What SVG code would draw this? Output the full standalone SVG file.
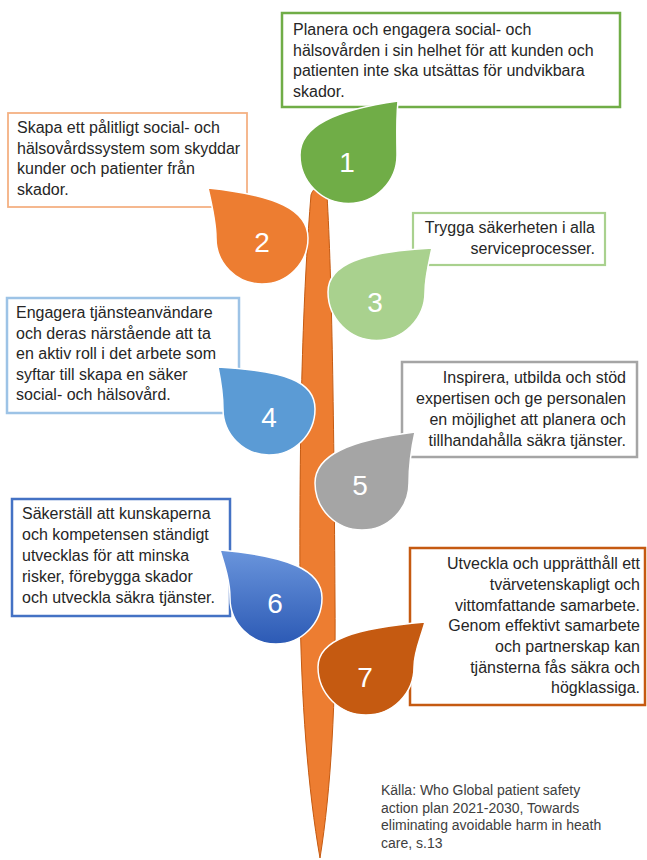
<svg xmlns="http://www.w3.org/2000/svg" width="647" height="860" viewBox="0 0 647 860">
<style>
  .box { fill: #ffffff; }
  .txt { font-family: "Liberation Sans", Arial, sans-serif; font-size: 16px; fill: #262626; }
  .src { font-family: "Liberation Sans", Arial, sans-serif; font-size: 14px; fill: #404040; }
  .num { font-family: "Liberation Sans", Arial, sans-serif; font-size: 28px; fill: #ffffff; text-anchor: middle; }
  .leaf { stroke: #ffffff; stroke-width: 1.5; }
  .r { text-anchor: end; }
</style>
<defs>
  <linearGradient id="g6" x1="0" y1="0" x2="0" y2="1">
    <stop offset="0" stop-color="#6A95DC"/>
    <stop offset="1" stop-color="#2C5AB5"/>
  </linearGradient>
</defs>
<rect width="647" height="860" fill="#ffffff"/>

<g id="stem">
  <path d="M311,195 C304,280 299,400 300,600 C301,700 308,790 320,858 C331,790 336,700 335,600 C334,420 332,280 327,195 C324,185 314,185 311,195 Z" fill="#ED7D31" stroke="#C55A11" stroke-width="1"/>
</g>

<g id="node-1">
  <rect class="box" x="282" y="13" width="338" height="94" stroke="#70AD47" stroke-width="2.5"/>
  <text class="txt" x="293" y="35">Planera och engagera social- och</text>
  <text class="txt" x="293" y="55.5">hälsovården i sin helhet för att kunden och</text>
  <text class="txt" x="293" y="76">patienten inte ska utsättas för undvikbara</text>
  <text class="txt" x="293" y="97">skador.</text>
  <path class="leaf" fill="#70AD47" d="M300,155 C300,126 335,110 398,101 C396,122 397,140 397,155 A48.5 48.5 0 0 1 300,155 Z"/>
  <text class="num" x="347" y="172">1</text>
</g>

<g id="node-2">
  <rect class="box" x="8" y="113" width="239" height="94" stroke="#F4B183" stroke-width="1.8"/>
  <text class="txt" x="17" y="133">Skapa ett pålitligt social- och</text>
  <text class="txt" x="17" y="153.5">hälsovårdssystem som skyddar</text>
  <text class="txt" x="17" y="174">kunder och patienter från</text>
  <text class="txt" x="17" y="195">skador.</text>
  <path class="leaf" fill="#ED7D31" d="M308,238 C308,210 276,195 208,188 C212,205 216,222 216,238 A46 46 0 0 0 308,238 Z"/>
  <text class="num" x="262" y="252">2</text>
</g>

<g id="node-3">
  <rect class="box" x="413" y="213" width="192" height="52" stroke="#A9D18E" stroke-width="2.2"/>
  <text class="txt r" x="595" y="233">Trygga säkerheten i alla</text>
  <text class="txt r" x="595" y="254">serviceprocesser.</text>
  <path class="leaf" fill="#A9D18E" d="M328,292 C328,264 362,252 432,248 C428,265 425,278 425,292 A48.5 48.5 0 0 1 328,292 Z"/>
  <text class="num" x="375" y="312">3</text>
</g>

<g id="node-4">
  <rect class="box" x="7" y="298" width="232" height="115" stroke="#9DC3E6" stroke-width="2.5"/>
  <text class="txt" x="16" y="318">Engagera tjänsteanvändare</text>
  <text class="txt" x="16" y="338.5">och deras närstående att ta</text>
  <text class="txt" x="16" y="359">en aktiv roll i det arbete som</text>
  <text class="txt" x="16" y="379.5">syftar till skapa en säker</text>
  <text class="txt" x="16" y="400">social- och hälsovård.</text>
  <path class="leaf" fill="#5B9BD5" d="M315,409 C315,381 285,371 218,367 C221,382 223,396 223,409 A46 46 0 0 0 315,409 Z"/>
  <text class="num" x="269" y="427">4</text>
</g>

<g id="node-5">
  <rect class="box" x="402" y="362" width="235" height="95" stroke="#A5A5A5" stroke-width="2.5"/>
  <text class="txt r" x="626" y="383">Inspirera, utbilda och stöd</text>
  <text class="txt r" x="626" y="404">expertisen och ge personalen</text>
  <text class="txt r" x="626" y="425">en möjlighet att planera och</text>
  <text class="txt r" x="626" y="446">tillhandahålla säkra tjänster.</text>
  <path class="leaf" fill="#A5A5A5" d="M315,483 C315,455 350,440 415,432 C411,450 409,468 409,483 A47 47 0 0 1 315,483 Z"/>
  <text class="num" x="360" y="495">5</text>
</g>

<g id="node-6">
  <rect class="box" x="12" y="499" width="218" height="117" stroke="#4472C4" stroke-width="2.5"/>
  <text class="txt" x="22" y="519">Säkerställ att kunskaperna</text>
  <text class="txt" x="22" y="540">och kompetensen  ständigt</text>
  <text class="txt" x="22" y="561">utvecklas för att minska</text>
  <text class="txt" x="22" y="582">risker, förebygga skador</text>
  <text class="txt" x="22" y="603">och utveckla säkra tjänster.</text>
  <path class="leaf" fill="url(#g6)" d="M322,598 C322,570 288,556 220,550 C225,566 230,582 230,598 A46 46 0 0 0 322,598 Z"/>
  <text class="num" x="275" y="613">6</text>
</g>

<g id="node-7">
  <rect class="box" x="410" y="548" width="235" height="157" stroke="#C55A11" stroke-width="2.5"/>
  <text class="txt r" x="640" y="569">Utveckla och upprätthåll ett</text>
  <text class="txt r" x="640" y="590">tvärvetenskapligt och</text>
  <text class="txt r" x="640" y="610.5">vittomfattande samarbete.</text>
  <text class="txt r" x="640" y="631">Genom effektivt samarbete</text>
  <text class="txt r" x="640" y="652">och partnerskap kan</text>
  <text class="txt r" x="640" y="672.5">tjänsterna fås säkra och</text>
  <text class="txt r" x="640" y="693">högklassiga.</text>
  <path class="leaf" fill="#C55A11" d="M318,667 C318,639 357,628 425,622 C420,640 414,652 414,667 A48 48 0 0 1 318,667 Z"/>
  <text class="num" x="365" y="687">7</text>
</g>

<g id="source">
  <text class="src" x="381" y="795">Källa: Who Global patient safety</text>
  <text class="src" x="381" y="812.5">action plan 2021-2030, Towards</text>
  <text class="src" x="381" y="830">eliminating avoidable harm in heath</text>
  <text class="src" x="381" y="847.5">care, s.13</text>
</g>
</svg>
